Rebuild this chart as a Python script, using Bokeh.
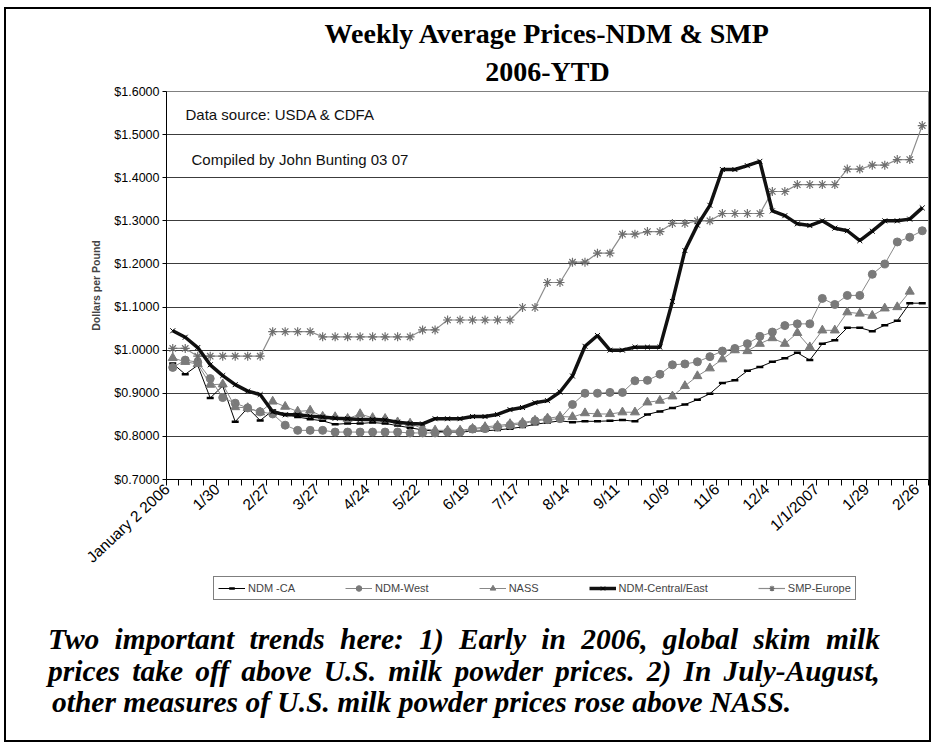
from math import radians
from bokeh.plotting import figure
from bokeh.layouts import column
from bokeh.models import (Range1d, FixedTicker, NumeralTickFormatter, Legend,
                          LegendItem, Label, Title, Div)
from bokeh.embed import file_html
from bokeh.resources import INLINE

# ---------------- data ----------------
tick_labels = ["January 2 2006", "1/30", "2/27", "3/27", "4/24", "5/22", "6/19",
               "7/17", "8/14", "9/11", "10/9", "11/6", "12/4", "1/1/2007",
               "1/29", "2/26"]
weeks = list(range(61))          # weekly observations, Jan 2 2006 .. Mar 2007
y_ticks = [0.7, 0.8, 0.9, 1.0, 1.1, 1.2, 1.3, 1.4, 1.5, 1.6]

ndm_ca = [0.969, 0.944, 0.965, 0.889, 0.917, 0.834, 0.866, 0.837, 0.860, 0.852,
          0.845, 0.840, 0.836, 0.828, 0.830, 0.830, 0.832, 0.830, 0.825, 0.820,
          0.815, 0.812, 0.810, 0.810, 0.812, 0.813, 0.815, 0.818, 0.822, 0.828,
          0.832, 0.836, 0.833, 0.835, 0.835, 0.836, 0.838, 0.835, 0.851, 0.858,
          0.866, 0.874, 0.885, 0.899, 0.924, 0.930, 0.952, 0.961, 0.973, 0.981,
          0.994, 0.977, 1.015, 1.023, 1.052, 1.052, 1.044, 1.058, 1.068, 1.109,
          1.109]

ndm_west = [0.960, 0.977, 0.972, 0.934, 0.890, 0.877, 0.866, 0.857, 0.852, 0.826,
            0.814, 0.814, 0.814, 0.810, 0.810, 0.810, 0.810, 0.810, 0.810, 0.808,
            0.808, 0.808, 0.810, 0.810, 0.817, 0.818, 0.822, 0.826, 0.829, 0.836,
            0.839, 0.841, 0.874, 0.900, 0.900, 0.902, 0.902, 0.929, 0.930, 0.944,
            0.966, 0.968, 0.973, 0.985, 0.998, 1.004, 1.015, 1.032, 1.042, 1.057,
            1.061, 1.061, 1.120, 1.106, 1.127, 1.127, 1.176, 1.200, 1.251, 1.262,
            1.277]

nass = [0.982, 0.973, 0.968, 0.920, 0.921, 0.868, 0.866, 0.856, 0.881, 0.869,
        0.858, 0.860, 0.846, 0.845, 0.841, 0.852, 0.843, 0.841, 0.833, 0.830,
        0.818, 0.814, 0.814, 0.814, 0.818, 0.822, 0.825, 0.829, 0.832, 0.837,
        0.842, 0.846, 0.845, 0.854, 0.852, 0.852, 0.856, 0.856, 0.879, 0.883,
        0.893, 0.917, 0.940, 0.958, 0.979, 1.000, 0.998, 1.015, 1.028, 1.015,
        1.040, 1.007, 1.046, 1.046, 1.088, 1.085, 1.080, 1.097, 1.100, 1.136]

central_east = [1.045, 1.030, 1.006, 0.966, 0.941, 0.920, 0.905, 0.897, 0.857, 0.850,
                0.850, 0.847, 0.845, 0.842, 0.841, 0.839, 0.839, 0.838, 0.833, 0.830,
                0.829, 0.841, 0.841, 0.841, 0.846, 0.846, 0.851, 0.862, 0.867, 0.878,
                0.883, 0.903, 0.940, 1.009, 1.034, 1.000, 1.000, 1.007, 1.007, 1.007,
                1.113, 1.231, 1.290, 1.336, 1.419, 1.419, 1.428, 1.438, 1.323, 1.312,
                1.293, 1.289, 1.300, 1.283, 1.277, 1.254, 1.276, 1.300, 1.300, 1.304,
                1.330]

smp_europe = [1.004, 1.004, 0.986, 0.986, 0.986, 0.986, 0.986, 0.986, 1.043, 1.043,
              1.043, 1.043, 1.031, 1.031, 1.031, 1.031, 1.031, 1.031, 1.031, 1.031,
              1.047, 1.047, 1.070, 1.070, 1.070, 1.070, 1.070, 1.070, 1.099, 1.099,
              1.157, 1.157, 1.204, 1.204, 1.225, 1.225, 1.269, 1.269, 1.275, 1.275,
              1.294, 1.294, 1.300, 1.300, 1.317, 1.317, 1.317, 1.317, 1.368, 1.368,
              1.384, 1.384, 1.384, 1.384, 1.420, 1.420, 1.429, 1.429, 1.442, 1.442,
              1.521]

series_names = ["NDM -CA", "NDM-West", "NASS", "NDM-Central/East", "SMP-Europe"]
title_lines = ["Weekly Average Prices-NDM & SMP", "2006-YTD"]
note_lines = ["Two important trends here: 1) Early in 2006, global skim milk",
              "prices take off above U.S. milk powder prices. 2) In July-August,",
              "other measures of U.S. milk powder prices rose above NASS."]

# ---------------- styles ----------------
SANS = "Liberation Sans"
SERIF = "Liberation Serif"
GRAY = "#7a7a7a"
styles = [
    dict(line=dict(line_color="black", line_width=1),
         mark=dict(marker="dash", size=7, line_color="black", line_width=2.5)),
    dict(line=dict(line_color="#888888", line_width=1),
         mark=dict(marker="circle", size=8, fill_color=GRAY, line_color=GRAY)),
    dict(line=dict(line_color="#888888", line_width=1),
         mark=dict(marker="triangle", size=9, fill_color=GRAY, line_color=GRAY)),
    dict(line=dict(line_color="#111111", line_width=3.5),
         mark=dict(marker="x", size=7, line_color="black", line_width=1)),
    dict(line=dict(line_color="#8c8c8c", line_width=1.2),
         mark=dict(marker="asterisk", size=9, line_color="#6e6e6e", line_width=1.2)),
]
series_vals = [ndm_ca, ndm_west, nass, central_east, smp_europe]

# ---------------- main chart ----------------
W = 923
H_MAIN = 565
H_LEG = 30
H_NOTE = 726 - H_MAIN - H_LEG

p = figure(width=W, height=H_MAIN, x_range=Range1d(-0.5, 60.5), y_range=Range1d(0.7, 1.6),
           title=None, output_backend="svg", toolbar_location=None,
           min_border_left=160, min_border_right=1, min_border_top=82,
           min_border_bottom=H_MAIN - 474, background_fill_color="white",
           border_fill_color="white", outline_line_color="#808080",
           outline_line_width=1)

for k in [0, 1, 2, 4, 3]:
    vals = series_vals[k]
    xs = weeks[:len(vals)]
    p.line(xs, vals, **styles[k]["line"])
    p.scatter(xs, vals, **styles[k]["mark"])

p.yaxis.ticker = FixedTicker(ticks=y_ticks)
p.yaxis.formatter = NumeralTickFormatter(format="$0.0000")
p.yaxis.major_label_text_font = SANS
p.yaxis.major_label_text_font_size = "12.5px"
p.yaxis.major_label_text_color = "black"
p.yaxis.major_label_standoff = 3
p.yaxis.major_tick_in = 0
p.yaxis.major_tick_out = 4
p.yaxis.minor_tick_line_color = None
p.yaxis.axis_line_color = "black"
p.yaxis.axis_label = "Dollars per Pound"
p.yaxis.axis_label_text_font = SANS
p.yaxis.axis_label_text_font_size = "10.5px"
p.yaxis.axis_label_text_font_style = "bold"
p.yaxis.axis_label_standoff = 9

# labels sit slightly left of each labelled week, as in the original
tick_pos = [4 * k - 0.45 for k in range(len(tick_labels))]
p.xaxis.ticker = FixedTicker(ticks=tick_pos,
                             minor_ticks=[w - 0.5 for w in weeks] + [weeks[-1] + 0.5])
p.xaxis.major_label_overrides = {t: lab for t, lab in zip(tick_pos, tick_labels)}
p.xaxis.major_label_orientation = radians(43)
p.xaxis.major_label_text_font = SANS
p.xaxis.major_label_text_font_size = "15.5px"
p.xaxis.major_label_text_color = "black"
p.xaxis.major_tick_line_color = None
p.xaxis.major_tick_in = 0
p.xaxis.major_tick_out = 6
p.xaxis.minor_tick_in = 0
p.xaxis.minor_tick_out = 6
p.xaxis.minor_tick_line_color = "black"
p.xaxis.axis_line_color = "black"
p.xaxis.major_label_standoff = 1

p.xgrid.grid_line_color = None
p.ygrid.grid_line_color = "#3c3c3c"
p.ygrid.grid_line_width = 1

p.add_layout(Label(x=19, y=365, x_units="screen", y_units="screen",
                   text="Data source: USDA & CDFA", text_font=SANS,
                   text_font_size="15px", text_baseline="middle", text_color="#111111"))
p.add_layout(Label(x=25, y=320, x_units="screen", y_units="screen",
                   text="Compiled by John Bunting 03 07", text_font=SANS,
                   text_font_size="15px", text_baseline="middle", text_color="#111111"))

# chart title: the line added first sits closest to the plot area
p.add_layout(Title(text=title_lines[1], align="center", offset=-13, standoff=10,
                   text_font=SERIF, text_font_size="28px", text_font_style="bold",
                   text_color="black"), "above")
p.add_layout(Title(text=title_lines[0], align="center", offset=-13, standoff=0,
                   text_font=SERIF, text_font_size="28px", text_font_style="bold",
                   text_color="black"), "above")

# ---------------- legend strip ----------------
q = figure(width=W, height=H_LEG, x_range=Range1d(-100, -99), y_range=Range1d(0, 1),
           title=None, output_backend="svg", toolbar_location=None,
           min_border_left=160, min_border_right=1, min_border_top=0, min_border_bottom=0,
           x_axis_location=None, y_axis_location=None, outline_line_color=None,
           background_fill_color="white", border_fill_color="white")
q.xgrid.grid_line_color = None
q.ygrid.grid_line_color = None

items = []
for k, name in enumerate(series_names):
    vals = series_vals[k]
    xs = weeks[:len(vals)]
    rl = q.line(xs, vals, **styles[k]["line"])      # outside q's range: legend keys only
    rm = q.scatter(xs, vals, **styles[k]["mark"])
    items.append(LegendItem(label=name, renderers=[rl, rm]))

legend = Legend(items=items, orientation="horizontal", location=(47, 4),
                border_line_color="black", border_line_width=1,
                label_text_font=SANS, label_text_font_size="11px",
                glyph_width=27, glyph_height=14, spacing=50, padding=4, margin=0,
                label_standoff=3, background_fill_color="white",
                background_fill_alpha=1)
q.add_layout(legend)

# ---------------- note ----------------
line_css = ("display:block;width:832px;font-family:'Liberation Serif';font-weight:bold;"
            "font-style:italic;font-size:29.5px;line-height:31.5px;color:black;")
html = (f'<div style="{line_css}text-align:justify;text-align-last:justify;">{note_lines[0]}</div>'
        f'<div style="{line_css}text-align:justify;text-align-last:justify;">{note_lines[1]}</div>'
        f'<div style="{line_css}text-align:left;padding-left:4px;white-space:nowrap;">{note_lines[2]}</div>')
note = Div(text=html, width=832, height=H_NOTE - 20,
           styles={"margin-left": "42px", "margin-top": "20px"})

page = column(p, q, note, spacing=0,
              styles={"border": "2px solid black", "margin-left": "4px",
                      "margin-top": "7px", "background-color": "white"})

open("out.html", "w").write(file_html(page, INLINE))
